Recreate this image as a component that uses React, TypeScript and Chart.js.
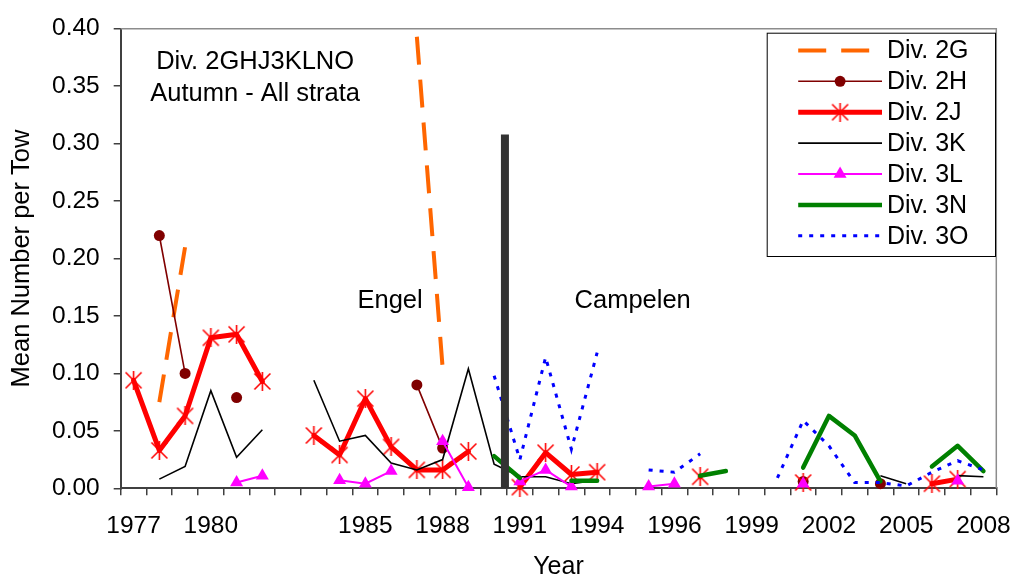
import React, { useEffect, useRef } from 'react';
import { Chart, registerables } from 'chart.js';

Chart.register(...registerables);

const FONT = '"Liberation Sans", Arial, Helvetica, sans-serif';

// Category labels (Excel category axis; one blank category after 1982, 1995 twice)
const categories = [
  '1977', '1978', '1979', '1980', '1981', '1982', '', '1983', '1984', '1985',
  '1986', '1987', '1988', '1989', '1990', '1991', '1992', '1993', '1994', '1995',
  '1995', '1996', '1997', '1998', '1999', '2000', '2001', '2002', '2003', '2004',
  '2005', '2006', '2007', '2008',
];

const div2G = [null, 0.075, 0.21, null, null, null, null, null, null, null, null, 0.393, 0.105, null, null, null, null, null, null, null, null, null, null, null, null, null, null, null, null, null, null, null, null, null];
const div2H = [null, 0.22, 0.1, null, 0.079, null, null, null, null, null, null, 0.09, 0.035, null, null, null, null, null, null, null, null, null, null, null, null, null, 0.006, null, null, 0.004, null, null, null, null];
const div2J = [0.094, 0.033, 0.063, 0.131, 0.134, 0.093, null, 0.046, 0.029, 0.078, 0.036, 0.016, 0.016, 0.032, null, 0.001, 0.031, 0.012, 0.014, null, null, null, 0.01, null, null, null, 0.005, null, null, null, null, 0.004, 0.008, null];
const div3K = [null, 0.008, 0.019, 0.085, 0.027, 0.051, null, 0.094, 0.041, 0.046, 0.022, 0.016, 0.025, 0.104, 0.021, 0.01, 0.01, 0.004, 0.007, null, null, null, null, null, null, null, null, null, null, 0.011, 0.004, null, 0.011, 0.01];
const div3L = [null, null, null, null, 0.005, 0.011, null, null, 0.007, 0.004, 0.015, null, 0.041, 0.001, null, 0.006, 0.016, 0.0015, null, null, 0.0015, 0.004, null, null, null, null, 0.004, null, null, null, null, null, 0.0065, null];
const div3N = [null, null, null, null, null, null, null, null, null, null, null, null, null, null, 0.028, 0.009, null, 0.0065, 0.0065, null, null, null, 0.011, 0.015, null, null, 0.018, 0.063, 0.046, 0.006, null, 0.019, 0.037, 0.015];
const div3O = [null, null, null, null, null, null, null, null, null, null, null, null, null, null, 0.098, 0.025, 0.114, 0.034, 0.118, null, 0.016, 0.014, 0.03, null, null, 0.009, 0.059, 0.037, 0.005, 0.005, 0.002, 0.014, 0.024, 0.016];

// Engel / Campelen divider (position in category units, height in y units)
const dividerX = 14.92;
const dividerTop = 0.308;

const yMin = 0;
const yMax = 0.4;
const yStep = 0.05;

const annotations = [
  { text: 'Div. 2GHJ3KLNO', x: 5.22, y: 0.371 },
  { text: 'Autumn - All strata', x: 5.22, y: 0.343 },
  { text: 'Engel', x: 10.46, y: 0.163 },
  { text: 'Campelen', x: 19.88, y: 0.163 },
];

const toXY = (vals: (number | null)[]) => vals.map((v, i) => ({ x: i + 0.5, y: v }));

function makeStar(): HTMLCanvasElement {
  const c = document.createElement('canvas');
  c.width = 19;
  c.height = 19;
  const s = c.getContext('2d')!;
  s.strokeStyle = '#FF0000';
  s.lineWidth = 1.6;
  s.beginPath();
  s.moveTo(1.5, 1.5); s.lineTo(17.5, 17.5);
  s.moveTo(17.5, 1.5); s.lineTo(1.5, 17.5);
  s.moveTo(9.5, 0); s.lineTo(9.5, 19);
  s.stroke();
  return c;
}

function drawMarker(ctx: CanvasRenderingContext2D, ds: any, x: number, y: number) {
  const style = ds.pointStyle;
  const r = ds.pointRadius || 0;
  if (!r && !(style instanceof HTMLCanvasElement)) return;
  ctx.setLineDash([]);
  if (style instanceof HTMLCanvasElement) {
    ctx.drawImage(style, x - style.width / 2, y - style.height / 2);
  } else if (style === 'circle') {
    ctx.fillStyle = ds.pointBackgroundColor;
    ctx.beginPath();
    ctx.arc(x, y, r, 0, Math.PI * 2);
    ctx.fill();
  } else if (style === 'triangle') {
    ctx.fillStyle = ds.pointBackgroundColor;
    ctx.beginPath();
    ctx.moveTo(x, y - r);
    ctx.lineTo(x + r * Math.sin(Math.PI / 3), y + r / 2);
    ctx.lineTo(x - r * Math.sin(Math.PI / 3), y + r / 2);
    ctx.closePath();
    ctx.fill();
  }
}

const decorPlugin = {
  id: 'decor',
  afterDraw(chart: any) {
    const { ctx, chartArea: ca, scales } = chart;
    const xs = scales.x;
    const ys = scales.y;
    ctx.save();
    // plot area border (top & right)
    ctx.strokeStyle = '#8c8c8c';
    ctx.lineWidth = 1.5;
    ctx.beginPath();
    ctx.moveTo(ca.left, ca.top);
    ctx.lineTo(ca.right, ca.top);
    ctx.lineTo(ca.right, ca.bottom);
    ctx.stroke();

    // text annotations
    ctx.fillStyle = '#000';
    ctx.textAlign = 'center';
    ctx.textBaseline = 'middle';
    ctx.font = `25.5px ${FONT}`;
    annotations.forEach((a) => {
      ctx.fillText(a.text, xs.getPixelForValue(a.x), ys.getPixelForValue(a.y));
    });

    // legend box
    const lx = ca.right - 229.6;
    const ly = ca.top + 4;
    const lw = 228.3;
    const lh = 223.3;
    ctx.fillStyle = '#fff';
    ctx.fillRect(lx, ly, lw, lh);
    ctx.strokeStyle = '#000';
    ctx.lineWidth = 1;
    ctx.strokeRect(lx + 0.5, ly + 0.5, lw, lh);

    const items = chart.data.datasets.filter((d: any) => d.label !== 'divider');
    items.forEach((ds: any, k: number) => {
      const cy = ly + 17.7 + k * 30.9;
      const x0 = lx + 31.5;
      const x1 = lx + 115.3;
      ctx.strokeStyle = ds.borderColor;
      ctx.lineWidth = ds.borderWidth;
      ctx.setLineDash(ds.borderDash || []);
      ctx.lineCap = 'butt';
      ctx.beginPath();
      ctx.moveTo(x0, cy);
      ctx.lineTo(x1, cy);
      ctx.stroke();
      drawMarker(ctx, ds, (x0 + x1) / 2, cy);
      ctx.setLineDash([]);
      ctx.fillStyle = '#000';
      ctx.textAlign = 'left';
      ctx.textBaseline = 'middle';
      ctx.font = `25px ${FONT}`;
      ctx.fillText(ds.label, lx + 120.3, cy + 1);
    });
    ctx.restore();
  },
};

export default function App() {
  const ref = useRef<HTMLCanvasElement>(null);

  useEffect(() => {
    const canvas = ref.current!;
    const star = makeStar();
    const lineBase = { spanGaps: false, clip: false as any, tension: 0 };

    const datasets: any[] = [
      {
        label: 'divider',
        data: [{ x: dividerX, y: yMin }, { x: dividerX, y: dividerTop }],
        borderColor: '#333333',
        borderWidth: 8,
        borderCapStyle: 'butt',
        pointRadius: 0,
        order: 0,
        ...lineBase,
      },
      {
        label: 'Div. 2G',
        data: toXY(div2G),
        borderColor: '#FF6600',
        borderWidth: 4,
        borderDash: [28, 15],
        borderCapStyle: 'butt',
        pointRadius: 0,
        order: 7,
        ...lineBase,
      },
      {
        label: 'Div. 2H',
        data: toXY(div2H),
        borderColor: '#800000',
        borderWidth: 1.6,
        pointStyle: 'circle',
        pointRadius: 5.5,
        pointBackgroundColor: '#800000',
        pointBorderColor: '#800000',
        pointBorderWidth: 0,
        order: 6,
        ...lineBase,
      },
      {
        label: 'Div. 2J',
        data: toXY(div2J),
        borderColor: '#FF0000',
        borderWidth: 5,
        borderJoinStyle: 'round',
        borderCapStyle: 'round',
        pointStyle: star,
        pointRadius: 9,
        order: 5,
        ...lineBase,
      },
      {
        label: 'Div. 3K',
        data: toXY(div3K),
        borderColor: '#000000',
        borderWidth: 1.6,
        pointRadius: 0,
        order: 4,
        ...lineBase,
      },
      {
        label: 'Div. 3L',
        data: toXY(div3L),
        borderColor: '#FF00FF',
        borderWidth: 2,
        pointStyle: 'triangle',
        pointRadius: 7.5,
        pointBackgroundColor: '#FF00FF',
        pointBorderColor: '#FF00FF',
        pointBorderWidth: 0,
        order: 3,
        ...lineBase,
      },
      {
        label: 'Div. 3N',
        data: toXY(div3N),
        borderColor: '#008000',
        borderWidth: 4.5,
        borderJoinStyle: 'round',
        borderCapStyle: 'round',
        pointRadius: 0,
        order: 2,
        ...lineBase,
      },
      {
        label: 'Div. 3O',
        data: toXY(div3O),
        borderColor: '#0000FF',
        borderWidth: 3,
        borderDash: [4, 7],
        borderCapStyle: 'butt',
        pointRadius: 0,
        order: 1,
        ...lineBase,
      },
    ];

    const axisColor = '#404040';

    const chart = new Chart(canvas, {
      type: 'line',
      data: { datasets },
      options: {
        responsive: false,
        animation: false,
        events: [],
        layout: { padding: { left: 0, top: 21, right: 19.7, bottom: 0 } },
        plugins: {
          legend: { display: false },
          tooltip: { enabled: false },
        },
        scales: {
          x: {
            type: 'linear',
            min: 0,
            max: categories.length,
            afterBuildTicks: (scale: any) => {
              const t = [];
              for (let k = 0; k <= categories.length * 2; k++) t.push({ value: k / 2 });
              scale.ticks = t;
            },
            afterFit: (scale: any) => {
              scale.height = 94.7;
            },
            grid: {
              drawOnChartArea: false,
              drawTicks: true,
              tickLength: 7,
              lineWidth: 1.5,
              color: (ctx: any) =>
                ctx.tick && Number.isInteger(ctx.tick.value) ? axisColor : 'rgba(0,0,0,0)',
            },
            border: { display: true, color: axisColor, width: 2 },
            ticks: {
              autoSkip: false,
              maxRotation: 0,
              minRotation: 0,
              padding: 16,
              color: '#000',
              font: { family: FONT, size: 24.5 },
              callback: (value: any) => {
                const v = Number(value);
                if (Number.isInteger(v)) return '';
                const i = Math.floor(v);
                return i % 3 === 0 ? categories[i] : '';
              },
            },
            title: {
              display: true,
              text: 'Year',
              color: '#000',
              font: { family: FONT, size: 25 },
              padding: { top: 0, bottom: 1 },
            },
          },
          y: {
            type: 'linear',
            min: yMin,
            max: yMax,
            afterFit: (scale: any) => {
              scale.width = 120.7;
            },
            grid: {
              drawOnChartArea: false,
              drawTicks: true,
              tickLength: 7,
              lineWidth: 1.5,
              color: axisColor,
            },
            border: { display: true, color: axisColor, width: 2 },
            ticks: {
              stepSize: yStep,
              padding: 14,
              color: '#000',
              font: { family: FONT, size: 24.5 },
              callback: (value: any) => Number(value).toFixed(2),
            },
            title: {
              display: true,
              text: 'Mean Number per Tow',
              color: '#000',
              font: { family: FONT, size: 25.5 },
              padding: { top: 7, bottom: 0 },
            },
          },
        },
      },
      plugins: [decorPlugin],
    } as any);

    return () => chart.destroy();
  }, []);

  return (
    <div style={{ position: 'fixed', left: 0, top: 0, width: 1016, height: 583, background: '#fff' }}>
      <canvas ref={ref} width={1016} height={583} style={{ display: 'block' }} />
    </div>
  );
}
